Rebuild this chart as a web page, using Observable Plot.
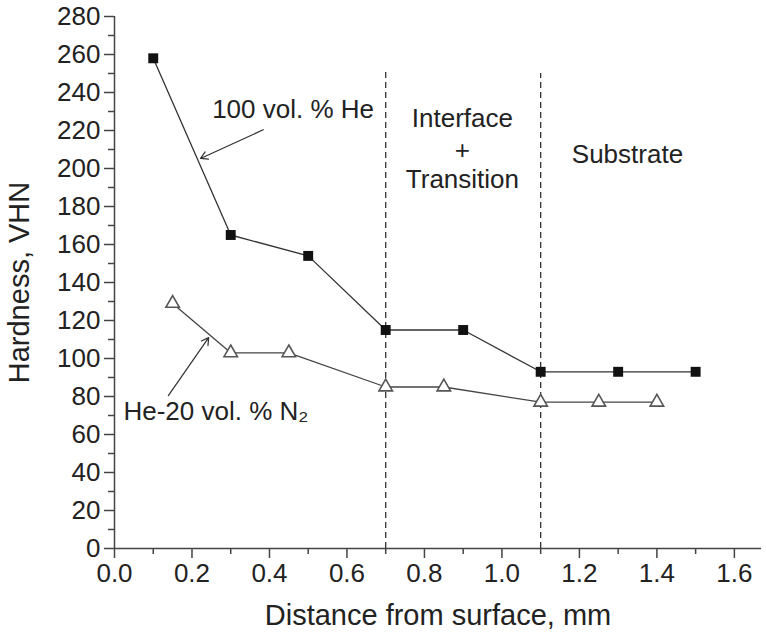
<!DOCTYPE html>
<html>
<head>
<meta charset="utf-8">
<script src="https://cdn.jsdelivr.net/npm/d3@7"></script>
<script src="https://cdn.jsdelivr.net/npm/@observablehq/plot@0.6"></script>
<style>
  html, body { margin: 0; padding: 0; background: #fff; }
</style>
</head>
<body>
<div id="chart"></div>
<script>
// Data
const distHe = [0.1, 0.3, 0.5, 0.7, 0.9, 1.1, 1.3, 1.5];
const hardHe = [258, 165, 154, 115, 115, 93, 93, 93];
const distN2 = [0.15, 0.3, 0.45, 0.7, 0.85, 1.1, 1.25, 1.4];
const hardN2 = [129, 103, 103, 85, 85, 77, 77, 77];

const xTicks = [0, 0.2, 0.4, 0.6, 0.8, 1.0, 1.2, 1.4, 1.6];
const xMinor = [0.1, 0.3, 0.5, 0.7, 0.9, 1.1, 1.3, 1.5];
const yTicks = [0, 20, 40, 60, 80, 100, 120, 140, 160, 180, 200, 220, 240, 260, 280];
const yMinor = [10, 30, 50, 70, 90, 110, 130, 150, 170, 190, 210, 230, 250, 270];

const boundaries = [0.7, 1.1];
const boundaryTop = [252, 250];

// Annotations: left-anchored and centred texts
const leftTexts = ["100 vol. % He", "He-20 vol. % N\u2082"];
const leftX = [0.252, 0.023];
const leftY = [231, 72.1];
const centerTexts = ["Interface", "+", "Transition", "Substrate"];
const centerX = [0.898, 0.898, 0.898, 1.324];
const centerY = [226.3, 209.5, 194.2, 207.4];

const arrowX1 = [0.384, 0.139];
const arrowY1 = [220.4, 80.5];
const arrowX2 = [0.222, 0.243];
const arrowY2 = [205.3, 111];

const he = distHe.map((d, i) => ({x: d, y: hardHe[i]}));
const n2 = distN2.map((d, i) => ({x: d, y: hardN2[i]}));
const bounds = boundaries.map((b, i) => ({x: b, top: boundaryTop[i]}));
const leftAnnots = leftTexts.map((t, i) => ({text: t, x: leftX[i], y: leftY[i]}));
const centerAnnots = centerTexts.map((t, i) => ({text: t, x: centerX[i], y: centerY[i]}));
const arrows = arrowX1.map((d, i) => ({x1: d, y1: arrowY1[i], x2: arrowX2[i], y2: arrowY2[i]}));

const axisColor = "#444";
const textColor = "#222";

const chart = Plot.plot({
  width: 766,
  height: 633,
  marginLeft: 114,
  marginRight: 5,
  marginTop: 16,
  marginBottom: 85,
  x: {domain: [0, 1.67]},
  y: {domain: [0, 280]},
  style: {fontFamily: "'Liberation Sans', Arial, Helvetica, sans-serif", color: textColor, background: "#fff"},
  marks: [
    Plot.ruleX(bounds, {x: "x", y1: 0, y2: "top", stroke: "#333", strokeWidth: 1.3, strokeDasharray: "6,4"}),
    Plot.axisX(xTicks, {tickSize: 10, tickPadding: 5, tickFormat: d3.format(".1f"), fontSize: 26, stroke: axisColor, strokeWidth: 1.5, label: null}),
    Plot.axisX({label: "Distance from surface, mm", labelArrow: "none", labelAnchor: "center", labelOffset: 76, fontSize: 29, tickSize: 0, tickFormat: () => "", ticks: []}),
    Plot.axisX(xMinor, {tickSize: 6, tickFormat: () => "", stroke: axisColor, strokeWidth: 1.5, label: null}),
    Plot.axisY(yTicks, {tickSize: 10, tickPadding: 4, fontSize: 26, stroke: axisColor, strokeWidth: 1.5, label: null}),
    Plot.axisY({label: "Hardness, VHN", labelArrow: "none", labelAnchor: "center", labelOffset: 106, fontSize: 29, tickSize: 0, tickFormat: () => "", ticks: []}),
    Plot.axisY(yMinor, {tickSize: 6, tickFormat: () => "", stroke: axisColor, strokeWidth: 1.5, label: null}),
    Plot.ruleY([0], {stroke: axisColor, strokeWidth: 1.5}),
    Plot.ruleX([0], {stroke: axisColor, strokeWidth: 1.5}),
    Plot.line(he, {x: "x", y: "y", stroke: "#333", strokeWidth: 1.3}),
    Plot.dot(he, {x: "x", y: "y", symbol: "square", r: 5.6, fill: "#111", stroke: "none"}),
    Plot.line(n2, {x: "x", y: "y", stroke: "#444", strokeWidth: 1.3}),
    Plot.dot(n2, {x: "x", y: "y", symbol: "triangle", r: 5, fill: "#fff", stroke: "#555", strokeWidth: 1.6}),
    Plot.arrow(arrows, {x1: "x1", y1: "y1", x2: "x2", y2: "y2", stroke: "#333", strokeWidth: 1.2, headLength: 10}),
    Plot.text(leftAnnots, {x: "x", y: "y", text: "text", textAnchor: "start", fontSize: 26, fill: textColor}),
    Plot.text(centerAnnots, {x: "x", y: "y", text: "text", textAnchor: "middle", fontSize: 26, fill: textColor})
  ]
});

document.getElementById("chart").appendChild(chart);
</script>
</body>
</html>
